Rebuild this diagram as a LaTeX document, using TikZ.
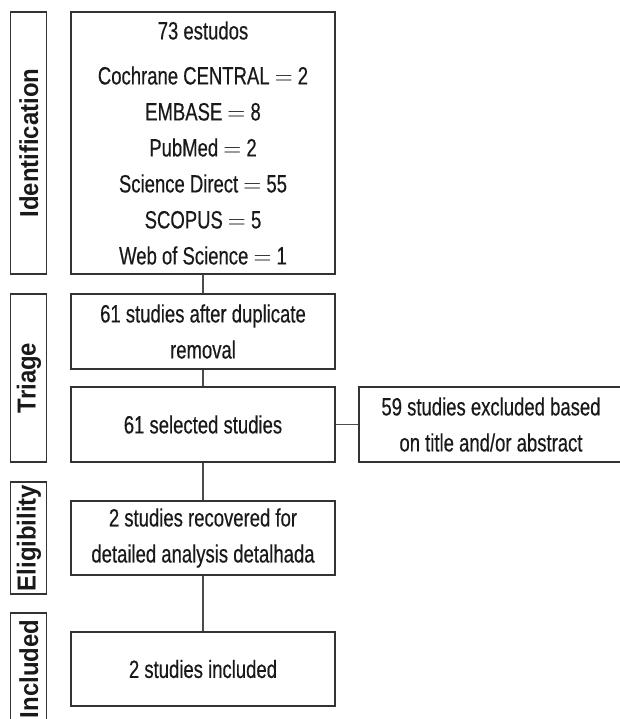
\documentclass[tikz,border=0pt]{standalone}
\usepackage{fontspec}
\setmainfont{Liberation Sans}[FakeStretch=0.74, FakeBold=0.4]
\newfontfamily\stagefont{Liberation Sans}[FakeStretch=0.92]
\usetikzlibrary{calc}

\begin{document}
\begin{tikzpicture}[x=1pt,y=-1pt]
	\tikzstyle{flow_box}=[draw=black!80, line width=1.1pt, rectangle, fill=white, text=black!90, align=center, minimum width=264pt, minimum height=75pt, inner sep=0pt, font=\fontsize{25}{36}\selectfont];
	\tikzstyle{stage_box}=[draw=black!80, line width=1.1pt, rectangle, rotate=90, text=black!90, minimum height=36pt, inner sep=0pt, font=\stagefont\bfseries\fontsize{26}{28}\selectfont];
	\tikzstyle{flow_line}=[draw=black!70, line width=1.1pt];

	\useasboundingbox (0,0) rectangle (619,719);

	% stage labels on the left
	\node[stage_box, minimum width=262pt] (ident_lbl) at (28.85,143) {Identification};
	\node[stage_box, minimum width=168pt] (triage_lbl) at ($(ident_lbl)+(0,235)$) {Triage};
	\node[stage_box, minimum width=112pt] (elig_lbl) at ($(ident_lbl)+(0,395)$) {Eligibility};
	\node[stage_box, minimum width=112pt] (incl_lbl) at ($(ident_lbl)+(0,526)$) {Included};

	% flow boxes
	\node[flow_box, minimum height=262pt] (ident) at (203,143) {73 estudos\\[9pt] Cochrane CENTRAL $=$ 2\\ EMBASE $=$ 8\\ PubMed $=$ 2\\ Science Direct $=$ 55\\ SCOPUS $=$ 5\\ Web of Science $=$ 1};
	\node[flow_box] (dup) at ($(ident)+(0,188.5)$) {61 studies after duplicate\\ removal};
	\node[flow_box] (sel) at ($(dup)+(0,93)$) {61 selected studies};
	\node[flow_box] (excl) at ($(sel)+(288,0)$) {59 studies excluded based\\ on title and/or abstract};
	\node[flow_box, minimum height=74pt] (elig) at ($(sel)+(0,113.5)$) {2 studies recovered for\\ detailed analysis detalhada};
	\node[flow_box, minimum height=74pt] (incd) at ($(elig)+(0,131)$) {2 studies included};

	\draw[flow_line] (ident.south) -- (dup.north);
	\draw[flow_line] (dup.south) -- (sel.north);
	\draw[flow_line] (sel.east) -- (excl.west);
	\draw[flow_line] (sel.south) -- (elig.north);
	\draw[flow_line] (elig.south) -- (incd.north);

\end{tikzpicture}
\end{document}
